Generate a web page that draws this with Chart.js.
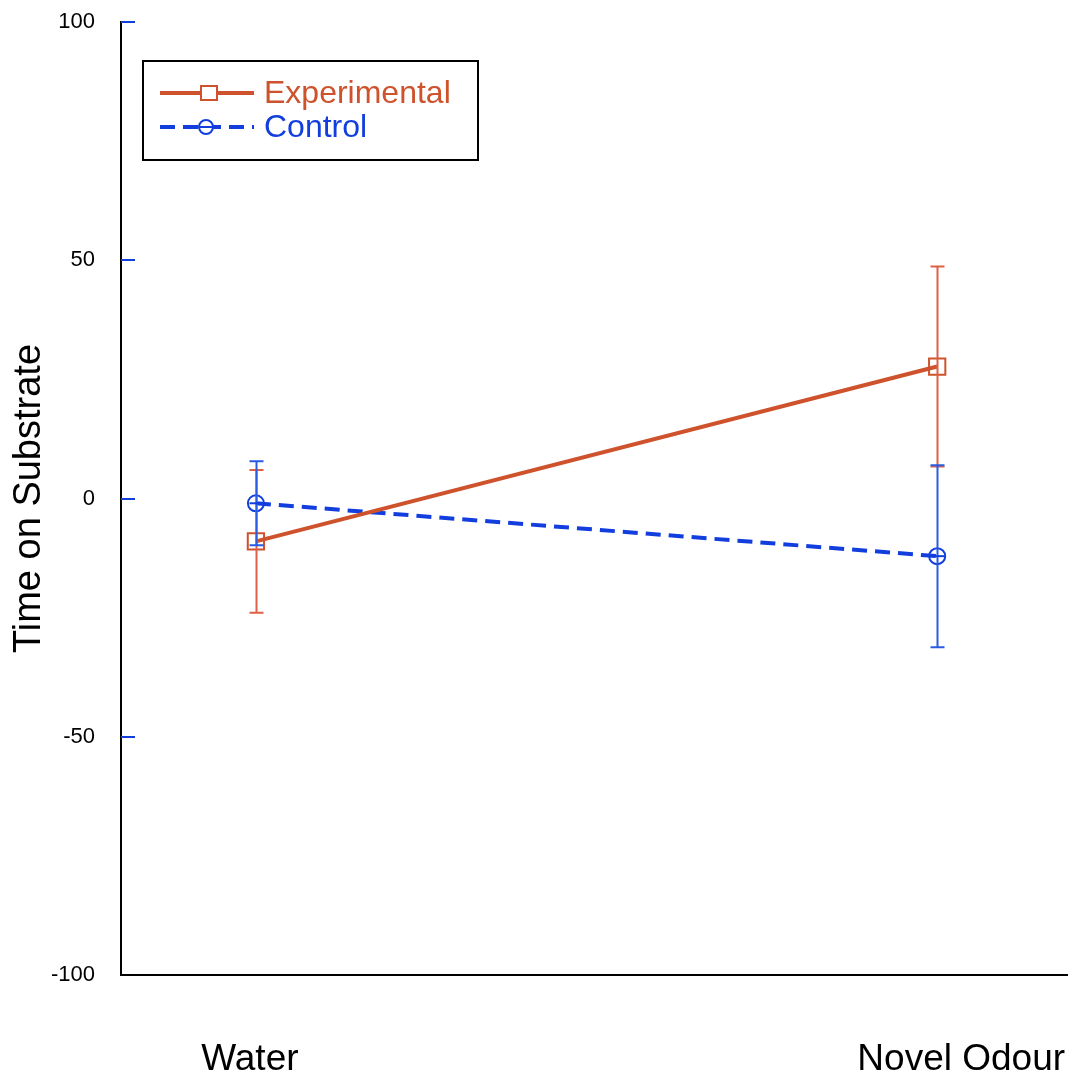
<!DOCTYPE html>
<html>
<head>
<meta charset="utf-8">
<script src="https://cdn.jsdelivr.net/npm/chart.js@4.4.1/dist/chart.umd.min.js"></script>
<style>
  html, body { margin: 0; padding: 0; background: #fff; }
  #wrap { width: 1068px; height: 1086px; }
</style>
</head>
<body>
<div id="wrap"><canvas id="chart" width="1068" height="1086"></canvas></div>
<script>
// categories on the x axis
const categories = ['Water', 'Novel Odour'];
// per-label nudges (px) so the labels sit where the original put them
const catLabelShift = [-6, 24];

// y axis ticks
const yTicks = [100, 50, 0, -50, -100];

// series means and error (half-width)
const expMeans = [-9, 27.7];
const expErr = [15, 21];
const ctrlMeans = [-1, -12.1];
const ctrlErr = [8.8, 19.1];

const RED = 'rgb(206, 82, 44)';
const RED_ERR = 'rgb(222, 96, 70)';
const BLUE = 'rgb(18, 62, 222)';
const BLUE_ERR = 'rgb(40, 92, 226)';
const FONT = 'Liberation Sans, Arial, Helvetica, sans-serif';

function toPoints(means) {
    return means.map((m, i) => ({ x: i, y: m }));
}

// draws vertical error bars with caps (and the bar inside the circle markers)
const errorBars = {
    id: 'errorBars',
    afterDatasetsDraw(chart) {
        const ctx = chart.ctx;
        const xs = chart.scales.x, ys = chart.scales.y;
        chart.data.datasets.forEach(ds => {
            ctx.save();
            ctx.strokeStyle = ds.errColor;
            ctx.lineWidth = ds.errWidth;
            ds.data.forEach((p, i) => {
                const e = ds.errors[i];
                const x = Math.round(xs.getPixelForValue(p.x)) + 0.5;
                const yTop = ys.getPixelForValue(p.y + e);
                const yBot = ys.getPixelForValue(p.y - e);
                ctx.beginPath();
                ctx.moveTo(x, yTop); ctx.lineTo(x, yBot);
                ctx.moveTo(x - 7, yTop); ctx.lineTo(x + 7, yTop);
                ctx.moveTo(x - 7, yBot); ctx.lineTo(x + 7, yBot);
                ctx.stroke();
                if (ds.pointStyle === 'circle') {
                    const y = ys.getPixelForValue(p.y);
                    ctx.strokeStyle = ds.borderColor;
                    ctx.beginPath();
                    ctx.moveTo(x - 7, y); ctx.lineTo(x + 7, y);
                    ctx.stroke();
                    ctx.strokeStyle = ds.errColor;
                }
            });
            ctx.restore();
        });
    }
};

// blue inward tick marks on the y axis, plus category labels
const axisExtras = {
    id: 'axisExtras',
    afterDraw(chart) {
        const ctx = chart.ctx;
        const ys = chart.scales.y, xs = chart.scales.x;
        const left = chart.chartArea.left;
        ctx.save();
        ctx.strokeStyle = BLUE;
        ctx.lineWidth = 2;
        yTicks.slice(0, 4).forEach(v => {
            const y = Math.round(ys.getPixelForValue(v));
            ctx.beginPath();
            ctx.moveTo(left, y); ctx.lineTo(left + 14, y);
            ctx.stroke();
        });
        ctx.fillStyle = '#000';
        ctx.font = '37px ' + FONT;
        ctx.textAlign = 'center';
        ctx.textBaseline = 'middle';
        categories.forEach((c, i) => {
            ctx.fillText(c, xs.getPixelForValue(i) + catLabelShift[i], 1060);
        });
        ctx.restore();
    }
};

// boxed legend with line + marker samples
const boxLegend = {
    id: 'boxLegend',
    afterDraw(chart) {
        const ctx = chart.ctx;
        ctx.save();
        ctx.strokeStyle = '#000';
        ctx.lineWidth = 2;
        ctx.strokeRect(143, 61, 335, 99);
        chart.data.datasets.forEach((ds, i) => {
            const y = 93 + i * 34;
            ctx.strokeStyle = ds.borderColor;
            ctx.lineWidth = 4;
            ctx.setLineDash(ds.borderDash || []);
            ctx.beginPath();
            ctx.moveTo(160, y); ctx.lineTo(254, y);
            ctx.stroke();
            ctx.setLineDash([]);
            ctx.lineWidth = 2;
            ctx.fillStyle = '#fff';
            if (ds.pointStyle === 'rect') {
                ctx.fillRect(201, y - 7, 16, 14);
                ctx.strokeRect(201, y - 7, 16, 14);
            } else {
                ctx.beginPath();
                ctx.arc(206, y, 7, 0, Math.PI * 2);
                ctx.fill(); ctx.stroke();
                ctx.beginPath();
                ctx.moveTo(199, y); ctx.lineTo(213, y);
                ctx.stroke();
            }
            ctx.fillStyle = ds.borderColor;
            ctx.font = '32px ' + FONT;
            ctx.textBaseline = 'middle';
            ctx.fillText(ds.label, 264, y + 1);
        });
        ctx.restore();
    }
};

new Chart(document.getElementById('chart'), {
    type: 'line',
    data: {
        datasets: [{
            label: 'Experimental',
            data: toPoints(expMeans),
            errors: expErr,
            errColor: RED_ERR,
            errWidth: 2,
            borderColor: RED,
            borderWidth: 4,
            pointStyle: 'rect',
            pointRadius: 11.5,
            pointBorderWidth: 2,
            pointBackgroundColor: 'rgba(0,0,0,0)',
            pointBorderColor: RED,
            order: 1
        }, {
            label: 'Control',
            data: toPoints(ctrlMeans),
            errors: ctrlErr,
            errColor: BLUE_ERR,
            errWidth: 2,
            borderColor: BLUE,
            borderWidth: 4,
            borderDash: [15, 8],
            pointStyle: 'circle',
            pointRadius: 8,
            pointBorderWidth: 2,
            pointBackgroundColor: 'rgba(0,0,0,0)',
            pointBorderColor: BLUE,
            order: 2
        }]
    },
    options: {
        responsive: false,
        animation: false,
        layout: { autoPadding: false, padding: { top: 22, right: 0, left: 0, bottom: 0 } },
        plugins: { legend: { display: false }, tooltip: { enabled: false } },
        scales: {
            x: {
                type: 'linear',
                min: -0.198,
                max: 1.192,
                grid: { display: false, drawTicks: false },
                border: { color: '#000', width: 2 },
                ticks: { display: false },
                afterFit(s) { s.height = 111; }
            },
            y: {
                min: -100,
                max: 100,
                afterBuildTicks(s) { s.ticks = yTicks.map(v => ({ value: v })); },
                grid: {
                    display: true,
                    drawOnChartArea: false,
                    drawTicks: true,
                    tickLength: 24,
                    color: 'rgba(0,0,0,0)'
                },
                border: { color: '#000', width: 2 },
                ticks: {
                    color: '#000',
                    padding: 2,
                    font: { size: 22, family: FONT }
                },
                title: {
                    display: true,
                    text: 'Time on Substrate',
                    color: '#000',
                    font: { size: 38, family: FONT },
                    padding: { top: 7, bottom: 0 }
                },
                afterFit(s) { s.width = 121; }
            }
        }
    },
    plugins: [errorBars, axisExtras, boxLegend]
});
</script>
</body>
</html>
